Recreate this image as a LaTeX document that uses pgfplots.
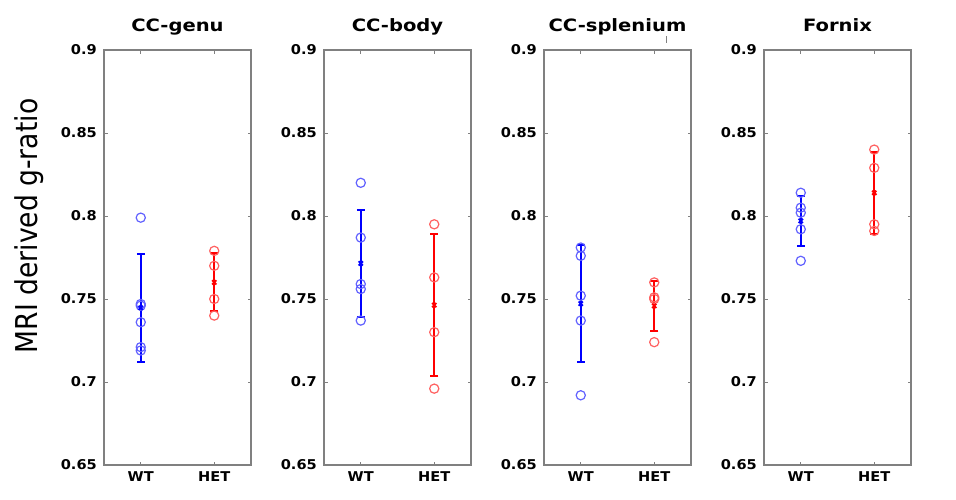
\documentclass[border=0pt]{standalone}
\usepackage{pgfplots}
\pgfplotsset{compat=1.18}
\usepackage{fontspec}
\setmainfont{DejaVu Sans}
\newfontfamily\tickfont{DejaVu Sans Bold}[FakeStretch=1.08]
\newfontfamily\titlefont{DejaVu Sans Bold}[FakeStretch=1.15]
\definecolor{cblue}{RGB}{0,0,255}
\definecolor{cred}{RGB}{255,0,0}
\pgfplotsset{panel/.style={
  scale only axis, width=147pt, height=415pt,
  xmin=0.5, xmax=2.5, ymin=0.65, ymax=0.9,
  xtick={1,2}, xticklabels={WT,HET},
  ytick={0.65,0.7,0.75,0.8,0.85,0.9},
  yticklabels={0.65,0.7,0.75,0.8,0.85,0.9},
  tick align=inside, major tick length=3.5pt,
  axis line style={draw=black!50, line width=1.3pt},
  every tick/.style={draw=black!50, line width=1pt},
  tick label style={font=\tickfont\fontsize{13.5}{14}\selectfont, inner sep=0pt},
  yticklabel style={xshift=-7pt},
  xticklabel style={yshift=-6.7pt},
  title style={font=\titlefont\fontsize{17}{18}\selectfont, anchor=base, at={(0.5,1)}, yshift=12.3pt, inner sep=0pt},
  clip=false, anchor=south west,
},
pts/.style={only marks, mark=o, mark size=4.6pt, mark options={draw=#1!62, line width=1.2pt}},
mn/.style={#1, line width=2.2pt, mark=x, mark size=3pt, mark options={line width=1.8pt},
  error bars/.cd, y dir=both, y explicit,
  error bar style={line width=2.2pt, #1},
  error mark=-, error mark options={rotate=90, mark size=4pt, line width=2pt, #1}},
}
\begin{document}
\begin{tikzpicture}
\useasboundingbox (0,0) rectangle (956pt,499pt);
\node[rotate=90, yscale=1.13, font=\fontsize{26.6}{29}\selectfont, inner sep=0pt] at (29pt,273pt) {MRI derived g-ratio};
\draw[black!50, line width=1pt] (666.7pt,456.3pt) -- (666.7pt,463pt);
% CC-genu
\begin{axis}[panel, at={(104pt,34pt)}, title={CC-genu}]
\addplot[pts=cblue] coordinates {(1,0.799) (1,0.747) (1,0.746) (1,0.736) (1,0.721) (1,0.719)};
\addplot[pts=cred] coordinates {(2,0.779) (2,0.770) (2,0.750) (2,0.740)};
\addplot[mn=cblue] coordinates {(1,0.7446) +- (0,0.0323)};
\addplot[mn=cred] coordinates {(2,0.7600) +- (0,0.0175)};
\end{axis}
% CC-body
\begin{axis}[panel, at={(324pt,34pt)}, title={CC-body}]
\addplot[pts=cblue] coordinates {(1,0.820) (1,0.787) (1,0.759) (1,0.756) (1,0.737)};
\addplot[pts=cred] coordinates {(2,0.795) (2,0.763) (2,0.730) (2,0.696)};
\addplot[mn=cblue] coordinates {(1,0.7714) +- (0,0.0324)};
\addplot[mn=cred] coordinates {(2,0.7463) +- (0,0.0429)};
\end{axis}
% CC-splenium
\begin{axis}[panel, at={(544pt,34pt)}, title={CC-splenium}]
\addplot[pts=cblue] coordinates {(1,0.781) (1,0.776) (1,0.752) (1,0.737) (1,0.692)};
\addplot[pts=cred] coordinates {(2,0.760) (2,0.751) (2,0.750) (2,0.724)};
\addplot[mn=cblue] coordinates {(1,0.7472) +- (0,0.0354)};
\addplot[mn=cred] coordinates {(2,0.7459) +- (0,0.0152)};
\end{axis}
% Fornix
\begin{axis}[panel, at={(764pt,34pt)}, title={Fornix}]
\addplot[pts=cblue] coordinates {(1,0.814) (1,0.805) (1,0.802) (1,0.792) (1,0.773)};
\addplot[pts=cred] coordinates {(2,0.840) (2,0.829) (2,0.795) (2,0.791)};
\addplot[mn=cblue] coordinates {(1,0.7970) +- (0,0.0152)};
\addplot[mn=cred] coordinates {(2,0.8140) +- (0,0.0248)};
\end{axis}
\end{tikzpicture}
\end{document}
